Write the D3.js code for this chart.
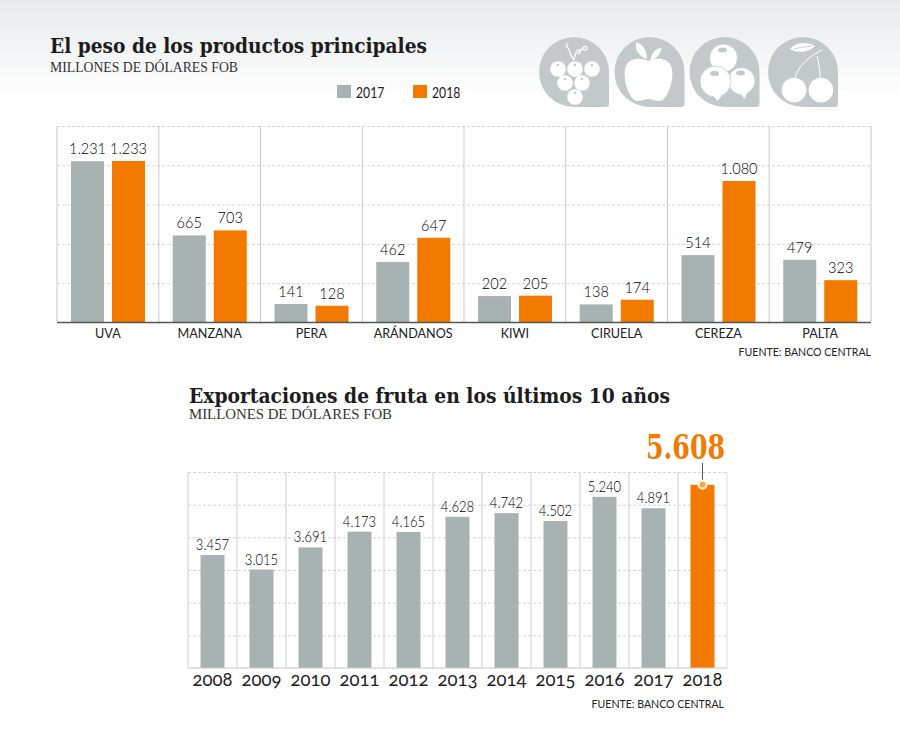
<!DOCTYPE html>
<html>
<head>
<meta charset="utf-8">
<script src="https://cdnjs.cloudflare.com/ajax/libs/d3/7.8.5/d3.min.js"></script>
<style>
html, body { margin: 0; padding: 0; background: #fff; }
svg { display: block; }
text { font-family: Lato, "Open Sans", sans-serif; fill: #222; }
.title { font-family: "DejaVu Serif", serif; font-weight: 700; fill: #1c1c1c; }
.sub { font-family: "Liberation Serif", serif; fill: #333; }
.axis .domain { display: none; }
</style>
</head>
<body>
<div id="body"></div>
<script>
// datos
var products = ["UVA", "MANZANA", "PERA", "ARÁNDANOS", "KIWI", "CIRUELA", "CEREZA", "PALTA"];
var seriesNames = ["2017", "2018"];
var values2017 = [1231, 665, 141, 462, 202, 138, 514, 479];
var values2018 = [1233, 703, 128, 647, 205, 174, 1080, 323];
var years = ["2008", "2009", "2010", "2011", "2012", "2013", "2014", "2015", "2016", "2017", "2018"];
var totals = [3457, 3015, 3691, 4173, 4165, 4628, 4742, 4502, 5240, 4891, 5608];

var GRAY = "#a9b2b3", ORANGE = "#f27a00", ICON = "#c3c9cb";
var fmt = function (v) { return d3.format(",")(v).replace(/,/g, "."); };

// la tipografia original es mas angosta que Lato
function condense(sel, k) {
    sel.each(function () {
        d3.select(this)
            .attr("textLength", this.getComputedTextLength() * k)
            .attr("lengthAdjust", "spacingAndGlyphs");
    });
}

var svg = d3.select("#body").append("svg").attr("width", 900).attr("height", 753);

// fondo superior degradado
var grad = svg.append("defs").append("linearGradient")
    .attr("id", "bg").attr("x1", 0).attr("y1", 0).attr("x2", 0).attr("y2", 1);
grad.append("stop").attr("offset", 0).attr("stop-color", "#e6eaeb");
grad.append("stop").attr("offset", 1).attr("stop-color", "#ffffff");
svg.append("rect").attr("width", 900).attr("height", 95).attr("fill", "url(#bg)");

// --- grafico 1 ---
svg.append("text").attr("class", "title").attr("x", 50).attr("y", 53)
    .attr("font-size", 20).attr("textLength", 377).attr("lengthAdjust", "spacingAndGlyphs")
    .text("El peso de los productos principales");
svg.append("text").attr("class", "sub").attr("x", 50).attr("y", 72)
    .attr("font-size", 14).attr("textLength", 188).attr("lengthAdjust", "spacingAndGlyphs")
    .text("MILLONES DE DÓLARES FOB");

var x0 = d3.scaleBand().domain(products).range([57, 871]);
var x1 = d3.scaleBand().domain(seriesNames).range([14, 88]).paddingInner(0.195);
var y = d3.scaleLinear().domain([0, 1500]).range([322.5, 126]);
var colorScale = d3.scaleOrdinal().domain(seriesNames).range([GRAY, ORANGE]);

// leyenda
var legend = svg.append("g").selectAll("g").data(seriesNames).enter().append("g")
    .attr("transform", function (d, i) { return "translate(" + (337 + i * 76) + ",85)"; });
legend.append("rect").attr("width", 14).attr("height", 13).attr("fill", function (d) { return colorScale(d); });
legend.append("text").attr("x", 19).attr("y", 12.5).attr("font-size", 14.5).attr("fill", "#333")
    .text(function (d) { return d; }).call(condense, 0.84);

// grilla horizontal
var gridTop = svg.append("g").attr("class", "axis").attr("transform", "translate(57,0)")
    .call(d3.axisLeft(y).tickValues([300, 600, 900, 1200, 1500]).tickSize(-814).tickFormat(""));
gridTop.selectAll("line").attr("stroke", "#d4d4d4").attr("stroke-dasharray", "3,2");

// separadores verticales
svg.append("g").selectAll("line").data(products).enter().append("line")
    .attr("x1", function (d) { return x0(d); }).attr("x2", function (d) { return x0(d); })
    .attr("y1", y(1500)).attr("y2", y(0)).attr("stroke", "#c9c9c9");
svg.append("line").attr("x1", 871).attr("x2", 871).attr("y1", y(1500)).attr("y2", y(0)).attr("stroke", "#c9c9c9");

var rows = products.map(function (p, i) {
    return { name: p, vals: [{ s: "2017", v: values2017[i] }, { s: "2018", v: values2018[i] }] };
});
var groups = svg.append("g").selectAll("g").data(rows).enter().append("g")
    .attr("transform", function (d) { return "translate(" + x0(d.name) + ",0)"; });
groups.selectAll("rect").data(function (d) { return d.vals; }).enter().append("rect")
    .attr("x", function (d) { return x1(d.s); })
    .attr("y", function (d) { return y(d.v); })
    .attr("width", x1.bandwidth())
    .attr("height", function (d) { return y(0) - y(d.v); })
    .attr("fill", function (d) { return colorScale(d.s); });
groups.selectAll("text").data(function (d) { return d.vals; }).enter().append("text")
    .attr("x", function (d) { return x1(d.s) + x1.bandwidth() / 2; })
    .attr("y", function (d) { return y(d.v) - 7; })
    .attr("text-anchor", "middle").attr("font-size", 16.5).attr("font-weight", 300)
    .style("fill", "#000")
    .text(function (d) { return fmt(d.v); })
    .call(condense, 0.88);

// eje x
var axisTop = svg.append("g").attr("class", "axis").attr("transform", "translate(0,322.5)")
    .call(d3.axisBottom(x0).tickSize(0).tickPadding(6));
axisTop.selectAll("text").attr("font-size", 14).attr("fill", "#222")
    .style("font-family", "Lato, sans-serif").call(condense, 0.9);
svg.append("line").attr("x1", 57).attr("x2", 871).attr("y1", 322.5).attr("y2", 322.5)
    .attr("stroke", "#555").attr("stroke-width", 1.5);

svg.append("text").attr("x", 871).attr("y", 356).attr("text-anchor", "end")
    .attr("font-size", 11.5).attr("fill", "#333").text("FUENTE: BANCO CENTRAL").call(condense, 0.92);

// --- grafico 2 ---
svg.append("text").attr("class", "title").attr("x", 189).attr("y", 403)
    .attr("font-size", 20).attr("textLength", 481).attr("lengthAdjust", "spacingAndGlyphs")
    .text("Exportaciones de fruta en los últimos 10 años");
svg.append("text").attr("class", "sub").attr("x", 189).attr("y", 419)
    .attr("font-size", 14).attr("textLength", 203).attr("lengthAdjust", "spacingAndGlyphs")
    .text("MILLONES DE DÓLARES FOB");

var xb = d3.scaleBand().domain(years).range([188, 727]);
var barPad = d3.scaleBand().domain(years).range([188, 727]).paddingInner(0.51).paddingOuter(0.255);
var yb = d3.scaleLinear().domain([0, 6000]).range([668, 472]);

var gridBottom = svg.append("g").attr("class", "axis").attr("transform", "translate(188,0)")
    .call(d3.axisLeft(yb).tickValues([1000, 2000, 3000, 4000, 5000, 6000]).tickSize(-539).tickFormat(""));
gridBottom.selectAll("line").attr("stroke", "#d4d4d4").attr("stroke-dasharray", "3,2");

svg.append("g").selectAll("line").data(years).enter().append("line")
    .attr("x1", function (d) { return xb(d); }).attr("x2", function (d) { return xb(d); })
    .attr("y1", yb(6000)).attr("y2", yb(0)).attr("stroke", "#cfcfcf");
svg.append("line").attr("x1", 727).attr("x2", 727).attr("y1", yb(6000)).attr("y2", yb(0)).attr("stroke", "#dcdcdc");

svg.append("g").selectAll("rect").data(totals).enter().append("rect")
    .attr("x", function (d, i) { return barPad(years[i]); })
    .attr("y", function (d) { return yb(d); })
    .attr("width", barPad.bandwidth())
    .attr("height", function (d) { return yb(0) - yb(d); })
    .attr("fill", function (d, i) { return i === totals.length - 1 ? ORANGE : GRAY; });

svg.append("g").selectAll("text").data(totals.slice(0, -1)).enter().append("text")
    .attr("x", function (d, i) { return xb(years[i]) + xb.bandwidth() / 2; })
    .attr("y", function (d) { return yb(d) - 5; })
    .attr("text-anchor", "middle").attr("font-size", 15).attr("font-weight", 300)
    .style("fill", "#000")
    .text(function (d) { return fmt(d); })
    .call(condense, 0.87);

var axisBottom = svg.append("g").attr("class", "axis").attr("transform", "translate(0,668)")
    .call(d3.axisBottom(xb).tickSize(0).tickPadding(5));
axisBottom.selectAll("text").attr("font-size", 18.5).attr("fill", "#111")
    .style("font-family", "Lato, sans-serif").style("font-variant-numeric", "oldstyle-nums");
svg.append("line").attr("x1", 188).attr("x2", 727).attr("y1", 668).attr("y2", 668)
    .attr("stroke", "#c4c8c9").attr("stroke-width", 1.2);

// destacado 2018
var lastYear = years[years.length - 1], lastVal = totals[totals.length - 1];
var cx = xb(lastYear) + xb.bandwidth() / 2;
svg.append("line").attr("x1", cx).attr("x2", cx).attr("y1", 463).attr("y2", yb(lastVal))
    .attr("stroke", "#555");
svg.append("circle").attr("cx", cx).attr("cy", yb(lastVal)).attr("r", 4)
    .attr("fill", "#f9a64e").attr("stroke", "#fff0e0").attr("stroke-width", 2);
svg.append("text").attr("class", "title").attr("x", 725).attr("y", 459).attr("text-anchor", "end")
    .attr("font-size", 33).attr("textLength", 79).attr("lengthAdjust", "spacingAndGlyphs")
    .style("fill", ORANGE).text(fmt(lastVal));

svg.append("text").attr("x", 724).attr("y", 708).attr("text-anchor", "end")
    .attr("font-size", 11.5).attr("fill", "#333").text("FUENTE: BANCO CENTRAL").call(condense, 0.92);

// --- iconos ---
function icon(x) {
    var g = svg.append("g").attr("transform", "translate(" + x + ",37)");
    g.append("path").attr("fill", ICON)
        .attr("d", "M35 0A35 35 0 0 1 70 35V67Q70 70 67 70H35A35 35 0 0 1 35 0Z");
    return g;
}
function dots(g, list, r) {
    g.selectAll(null).data(list).enter().append("circle")
        .attr("cx", function (d) { return d[0]; }).attr("cy", function (d) { return d[1]; })
        .attr("r", r).attr("fill", "#fff");
}
// uva
var grape = icon(539);
dots(grape, [[19, 32], [36, 32], [53, 32], [26, 46], [43, 46], [36, 60]], 7.8);
grape.selectAll(null).data([[19, 28], [36, 28], [53, 28], [26, 42], [43, 42], [36, 56]]).enter().append("circle")
    .attr("cx", function (d) { return d[0]; }).attr("cy", function (d) { return d[1]; })
    .attr("r", 1.2).attr("fill", ICON);
grape.append("path").attr("fill", "none").attr("stroke", "#fff").attr("stroke-width", 1.3)
    .attr("d", "M28 6C26 10 31 12 31 15C31 18 33 20 35 23M35 23C36 16 39 11 41 13C42 16 38 18 40 16C42 12 46 8 48 10C49 13 45 14 44 12");
// manzana
var apple = icon(614.5);
apple.append("path").attr("fill", "#fff")
    .attr("d", "M34 24C26 20 14 21 11 30C8 40 13 58 20 63C24 66 29 62 34 62C39 62 44 66 48 63C55 58 60 40 57 30C54 21 42 20 34 24Z");
apple.append("path").attr("fill", "#fff").attr("d", "M32 22C22 18 20 10 22 5C28 7 33 14 32 22Z");
apple.append("path").attr("fill", "#fff").attr("d", "M36 23C37 15 42 11 47 11C46 17 42 22 36 23Z");
// arandanos
var berry = icon(689.5);
[[34, 21, 14], [52, 44, 13.5], [26, 44.5, 15.5]].forEach(function (c) {
    berry.append("circle").attr("cx", c[0]).attr("cy", c[1]).attr("r", c[2])
        .attr("fill", "#fff").attr("stroke", ICON).attr("stroke-width", 0.8);
    berry.append("ellipse").attr("cx", c[0] - 1).attr("cy", c[1] - 8).attr("rx", 4.5).attr("ry", 2.5).attr("fill", ICON);
});
berry.append("path").attr("fill", "#fff").attr("d", "M24 59L28 64L32 59Z M51 56L55 62L58 55Z");
// cereza
var cherry = icon(768);
dots(cherry, [[26, 53], [53, 53]], 12.3);
cherry.append("path").attr("fill", "none").attr("stroke", "#fff").attr("stroke-width", 1)
    .attr("d", "M54 13C40 20 29 30 27 42M49 19C51 26 52 34 52 41");
cherry.append("path").attr("fill", "#fff").attr("d", "M22 12C28 5 38 4 47 9C41 15 30 17 22 12Z");
cherry.append("path").attr("fill", "none").attr("stroke", ICON).attr("stroke-width", 0.8).attr("d", "M26 12C32 10 38 10 44 9");
</script>
</body>
</html>
